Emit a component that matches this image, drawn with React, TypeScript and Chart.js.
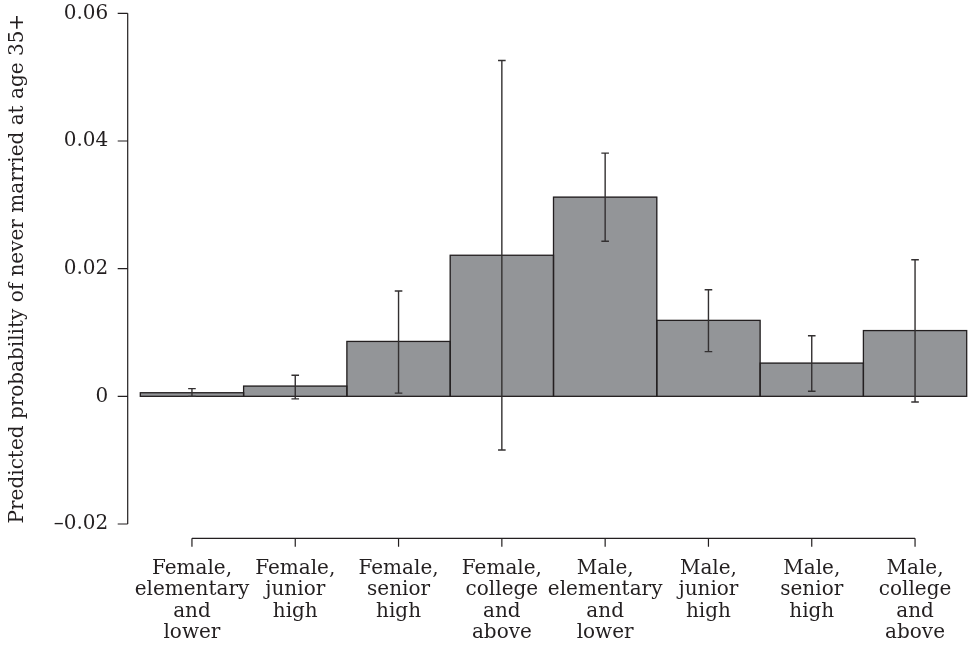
import React, { useEffect, useRef } from "react";
import { Chart, registerables } from "chart.js";

Chart.register(...registerables);

const categories: string[][] = [
  ["Female,", "elementary", "and", "lower"],
  ["Female,", "junior", "high"],
  ["Female,", "senior", "high"],
  ["Female,", "college", "and", "above"],
  ["Male,", "elementary", "and", "lower"],
  ["Male,", "junior", "high"],
  ["Male,", "senior", "high"],
  ["Male,", "college", "and", "above"],
];
const predicted = [0.00056, 0.0016, 0.0086, 0.0221, 0.0312, 0.0119, 0.0052, 0.0103];
const ciLower = [0.0, -0.0004, 0.0005, -0.0084, 0.0243, 0.007, 0.0008, -0.0009];
const ciUpper = [0.0012, 0.0033, 0.0165, 0.0526, 0.0381, 0.0167, 0.0095, 0.0214];
const yTicks = [-0.02, 0, 0.02, 0.04, 0.06];
const yTickLabels = ["\u20130.02", "0", "0.02", "0.04", "0.06"];
const yTitle = "Predicted probability of never married at age 35+";

const INK = "#231f20";
const BAR_FILL = "#939598";
const FONT = "'DejaVu Serif', serif";

const zeroPad = (s: any) => {
  s.paddingTop = 0;
  s.paddingBottom = 0;
  s.paddingLeft = 0;
  s.paddingRight = 0;
};

const decorPlugin = {
  id: "decor",
  afterDatasetsDraw(chart: any) {
    const { ctx } = chart;
    const xs = chart.scales.x;
    const ys = chart.scales.y;
    const meta = chart.getDatasetMeta(0);
    ctx.save();
    // bar outlines
    ctx.strokeStyle = INK;
    ctx.lineWidth = 1.3;
    meta.data.forEach((bar: any) => {
      const { x, y, base, width } = bar.getProps(["x", "y", "base", "width"], true);
      ctx.strokeRect(x - width / 2, Math.min(y, base), width, Math.abs(base - y));
    });
    // error bars
    ctx.strokeStyle = "#333031";
    ctx.lineWidth = 1.4;
    predicted.forEach((_, i) => {
      const px = xs.getPixelForValue(i);
      const lo = ys.getPixelForValue(ciLower[i]);
      const hi = ys.getPixelForValue(ciUpper[i]);
      ctx.beginPath();
      ctx.moveTo(px, lo);
      ctx.lineTo(px, hi);
      ctx.moveTo(px - 3.8, lo);
      ctx.lineTo(px + 3.8, lo);
      ctx.moveTo(px - 3.8, hi);
      ctx.lineTo(px + 3.8, hi);
      ctx.stroke();
    });
    ctx.restore();
  },
  afterDraw(chart: any) {
    const { ctx, chartArea } = chart;
    const xs = chart.scales.x;
    const ys = chart.scales.y;
    ctx.save();
    ctx.strokeStyle = INK;
    ctx.lineWidth = 1.2;
    // y axis
    const ax = chartArea.left - 12.6;
    ctx.beginPath();
    ctx.moveTo(ax, ys.getPixelForValue(yTicks[yTicks.length - 1]));
    ctx.lineTo(ax, ys.getPixelForValue(yTicks[0]));
    yTicks.forEach((v) => {
      const py = ys.getPixelForValue(v);
      ctx.moveTo(ax - 10, py);
      ctx.lineTo(ax, py);
    });
    ctx.stroke();
    // x axis
    const ay = chartArea.bottom + 14.3;
    ctx.beginPath();
    ctx.moveTo(xs.getPixelForValue(0), ay);
    ctx.lineTo(xs.getPixelForValue(categories.length - 1), ay);
    categories.forEach((_, i) => {
      const px = xs.getPixelForValue(i);
      ctx.moveTo(px, ay);
      ctx.lineTo(px, ay + 8.5);
    });
    ctx.stroke();
    ctx.restore();
  },
};

export default function App() {
  const ref = useRef<HTMLCanvasElement | null>(null);
  useEffect(() => {
    if (!ref.current) return;
    const chart = new Chart(ref.current, {
      type: "bar",
      data: {
        labels: categories,
        datasets: [
          {
            data: predicted,
            backgroundColor: BAR_FILL,
            borderWidth: 0,
            barPercentage: 1,
            categoryPercentage: 1,
          },
        ],
      },
      options: {
        responsive: false,
        animation: false,
        layout: { padding: { top: 13.3, right: 1.3, bottom: 0, left: 0 } },
        plugins: { legend: { display: false }, tooltip: { enabled: false } },
        scales: {
          x: {
            type: "category",
            offset: true,
            grid: { display: false, drawTicks: false },
            border: { display: false },
            ticks: {
              autoSkip: false,
              maxRotation: 0,
              minRotation: 0,
              padding: 34,
              color: INK,
              font: { family: FONT, size: 20, lineHeight: 1.075 },
            },
            afterFit: (s: any) => {
              s.height = 133;
              zeroPad(s);
            },
          },
          y: {
            type: "linear",
            min: -0.02,
            max: 0.06,
            grid: { display: false, drawTicks: false },
            border: { display: false },
            afterBuildTicks: (s: any) => {
              s.ticks = yTicks.map((v) => ({ value: v }));
            },
            ticks: {
              padding: 32,
              color: INK,
              font: { family: FONT, size: 20 },
              callback: (_v: any, i: number) => yTickLabels[i],
            },
            title: {
              display: true,
              text: yTitle,
              align: "center",
              color: INK,
              font: { family: FONT, size: 20 },
              padding: { top: 6, bottom: 0 },
            },
            afterFit: (s: any) => {
              s.width = 140.3;
              zeroPad(s);
            },
          },
        },
      },
      plugins: [decorPlugin],
    });
    return () => chart.destroy();
  }, []);
  return (
    <canvas
      ref={ref}
      width={968}
      height={657}
      style={{ position: "absolute", left: 0, top: 0, width: 968, height: 657, background: "#fff" }}
    />
  );
}
